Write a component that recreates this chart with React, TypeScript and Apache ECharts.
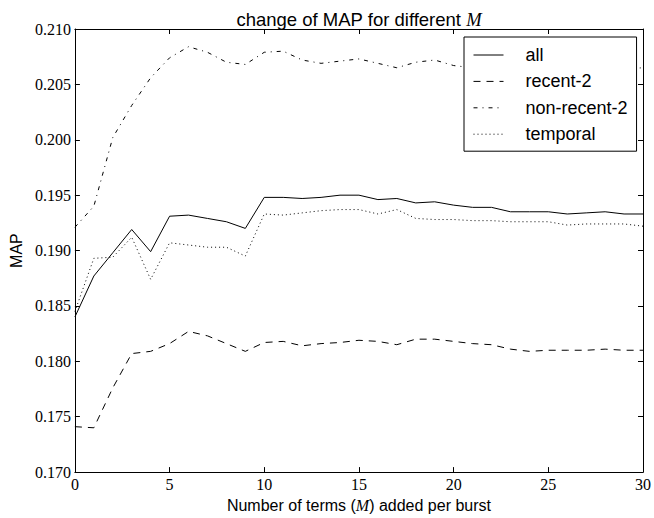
import React, { useEffect, useRef } from "react";
import * as echarts from "echarts";

const xValues = [0, 1, 2, 3, 4, 5, 6, 7, 8, 9, 10, 11, 12, 13, 14, 15, 16, 17, 18, 19, 20, 21, 22, 23, 24, 25, 26, 27, 28, 29, 30];

const allValues = [
  0.1840, 0.1877, 0.1898, 0.1919, 0.1899, 0.1931, 0.1932, 0.1929, 0.1926, 0.1920,
  0.1948, 0.1948, 0.1947, 0.1948, 0.1950, 0.1950, 0.1946, 0.1947, 0.1943, 0.1944,
  0.1941, 0.1939, 0.1939, 0.1935, 0.1935, 0.1935, 0.1933, 0.1934, 0.1935, 0.1933, 0.1933,
];

const recent2Values = [
  0.1741, 0.1740, 0.1776, 0.1807, 0.1809, 0.1816, 0.1827, 0.1823, 0.1816, 0.1809,
  0.1817, 0.1818, 0.1814, 0.1816, 0.1817, 0.1819, 0.1818, 0.1815, 0.1820, 0.1820,
  0.1818, 0.1816, 0.1815, 0.1811, 0.1809, 0.1810, 0.1810, 0.1810, 0.1811, 0.1810, 0.1810,
];

const nonRecent2Values = [
  0.1921, 0.1940, 0.2002, 0.2031, 0.2056, 0.2074, 0.2084, 0.2079, 0.2070, 0.2068,
  0.2079, 0.2080, 0.2072, 0.2069, 0.2071, 0.2073, 0.2069, 0.2065, 0.2070, 0.2072,
  0.2067, 0.2065, 0.2066, 0.2064, 0.2065, 0.2066, 0.2064, 0.2065, 0.2066, 0.2064, 0.2065,
];

const temporalValues = [
  0.1845, 0.1893, 0.1894, 0.1912, 0.1874, 0.1907, 0.1905, 0.1903, 0.1903, 0.1895,
  0.1933, 0.1932, 0.1934, 0.1936, 0.1937, 0.1937, 0.1933, 0.1937, 0.1929, 0.1928,
  0.1928, 0.1927, 0.1927, 0.1926, 0.1926, 0.1926, 0.1923, 0.1924, 0.1924, 0.1924, 0.1922,
];

const seriesNames = ["all", "recent-2", "non-recent-2", "temporal"];
const xTicks = { min: 0, max: 30, interval: 5 };
const yTicks = { min: 0.17, max: 0.21, interval: 0.005 };

const sans = "'Liberation Sans', Arial, Helvetica, sans-serif";
const serif = "'Liberation Serif', 'DejaVu Serif', serif";

export default function App() {
  const ref = useRef<HTMLDivElement>(null);

  useEffect(() => {
    if (!ref.current) return;
    const chart = echarts.init(ref.current, null, { renderer: "svg" });
    const toPairs = (vals: number[]) => xValues.map((x, i) => [x, vals[i]]);
    const lineSeries = (name: string, vals: number[], type: any) => ({
      name,
      type: "line",
      data: toPairs(vals),
      symbol: "none",
      showSymbol: false,
      xAxisIndex: 0,
      yAxisIndex: 0,
      color: "#000",
      lineStyle: { color: "#000", width: 1, type },
      z: 2,
    });
    const axisLine = { show: true, onZero: false, lineStyle: { color: "#000", width: 1 } };
    const tick = { show: true, inside: true, length: 5, lineStyle: { color: "#000", width: 1 } };

    chart.setOption({
      animation: false,
      backgroundColor: "#fff",
      title: {
        text: "change of MAP for different {m|M}",
        left: 354,
        textAlign: "center",
        top: 5,
        textStyle: {
          fontFamily: sans,
          fontSize: 18.5,
          fontWeight: "normal",
          color: "#000",
          rich: {
            m: { fontFamily: serif, fontStyle: "italic", fontSize: 18.5, color: "#000" },
          },
        },
      },
      legend: {
        orient: "vertical",
        left: 464,
        top: 37,
        data: seriesNames,
        backgroundColor: "#fff",
        borderColor: "#000",
        borderWidth: 1,
        borderRadius: 0,
        padding: [9, 9, 8, 9],
        itemWidth: 30,
        itemHeight: 14,
        itemGap: 8.4,
        itemStyle: { color: "rgba(0,0,0,0)", borderWidth: 0, opacity: 0 },
        lineStyle: { width: 1 },
        textStyle: {
          fontFamily: sans,
          fontSize: 18,
          color: "#000",
          padding: [0, 0, 0, 17],
        },
        z: 10,
      },
      grid: { left: 66, right: 8, top: 29, bottom: 40, containLabel: false },
      xAxis: [
        {
          type: "value",
          ...xTicks,
          position: "bottom",
          name: "Number of terms ({m|M}) added per burst",
          nameLocation: "middle",
          nameGap: 19,
          nameTextStyle: {
            fontFamily: sans,
            fontSize: 16,
            color: "#000",
            rich: { m: { fontFamily: serif, fontStyle: "italic", fontSize: 16, color: "#000" } },
          },
          axisLine,
          axisTick: tick,
          axisLabel: { fontFamily: serif, fontSize: 16, color: "#000", margin: 4 },
          splitLine: { show: false },
        },
        {
          type: "value",
          ...xTicks,
          position: "top",
          axisLine,
          axisTick: tick,
          axisLabel: { show: false },
          splitLine: { show: false },
        },
      ],
      yAxis: [
        {
          type: "value",
          ...yTicks,
          position: "left",
          name: "MAP",
          nameLocation: "middle",
          nameGap: 47,
          nameTextStyle: { fontFamily: sans, fontSize: 16, color: "#000" },
          axisLine,
          axisTick: tick,
          axisLabel: {
            fontFamily: serif,
            fontSize: 16,
            color: "#000",
            margin: 4,
            formatter: (v: number) => v.toFixed(3),
          },
          splitLine: { show: false },
        },
        {
          type: "value",
          ...yTicks,
          position: "right",
          axisLine,
          axisTick: tick,
          axisLabel: { show: false },
          splitLine: { show: false },
        },
      ],
      series: [
        lineSeries(seriesNames[0], allValues, "solid"),
        lineSeries(seriesNames[1], recent2Values, [7, 6]),
        lineSeries(seriesNames[2], nonRecent2Values, [4, 5, 1, 5]),
        lineSeries(seriesNames[3], temporalValues, [1, 3]),
      ],
    });
    return () => chart.dispose();
  }, []);

  return (
    <div
      ref={ref}
      style={{ position: "fixed", left: 0, top: 0, width: 654, height: 518, background: "#fff" }}
    />
  );
}
